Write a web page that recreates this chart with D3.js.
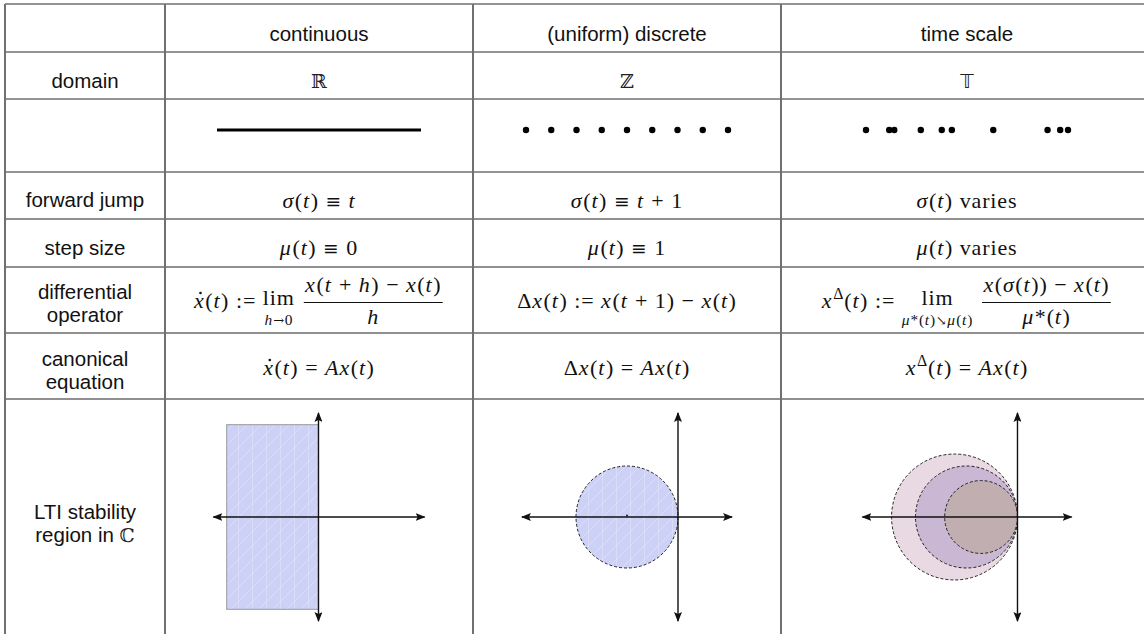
<!DOCTYPE html>
<html>
<head>
<meta charset="utf-8">
<script src="https://cdn.jsdelivr.net/npm/d3@7"></script>
<style>
  body { margin: 0; background: #fff; }
  svg { display: block; }
  .lbl { font-family: "Liberation Sans", Arial, sans-serif; font-size: 20.5px; fill: #111; }
  .m { font-family: "Liberation Serif", "Times New Roman", serif; fill: #111; letter-spacing: 0.04em; }
  .op { font-family: "DejaVu Serif", serif; }
  .bb { font-family: "DejaVu Serif", serif; fill: #222; }
  .bbt { font-family: "DejaVu Sans", sans-serif; fill: #222; }
</style>
</head>
<body>
<script>
//---------------------------------------------------- DATA ----------------------------------------------------------
var columns = ["continuous", "(uniform) discrete", "time scale"];
var rowLabels = [["domain"], [], ["forward jump"], ["step size"], ["differential", "operator"],
                 ["canonical", "equation"], ["LTI stability", "region in "]];
var domains = ["ℝ", "ℤ", "𝕋"];

// points of each domain, drawn on a common 0..8 line
var continuousSpan = [0, 8];
var discretePts = [0, 1, 2, 3, 4, 5, 6, 7, 8];
var timeScalePts = [0, 0.92, 1.12, 2.17, 3.0, 3.4, 5.04, 7.19, 7.69, 8.0];

// formulas: "{word}" = upright word, "^c" = superscript, ẋ = dotted x
var forwardJump = ["σ(t) ≡ t", "σ(t) ≡ t + 1", "σ(t) {varies}"];
var stepSize = ["μ(t) ≡ 0", "μ(t) ≡ 1", "μ(t) {varies}"];
var diffOperator = [
  ["ẋ(t) := ", {lim: "h→0"}, {num: "x(t + h) − x(t)", den: "h"}],
  ["Δx(t) := x(t + 1) − x(t)"],
  ["x^Δ(t) := ", {lim: "μ*(t)↘μ(t)"}, {num: "x(σ(t)) − x(t)", den: "μ*(t)"}]
];
var canonical = [["ẋ(t) = Ax(t)"], ["Δx(t) = Ax(t)"], ["x^Δ(t) = Ax(t)"]];

// complex plane: axis extents (re, im), stability regions
var axisRe = [[-2.08, 2.1], [-3.08, 1.08], [-3.06, 1.08]];
var axisIm = [-2.06, 2.06];
var ctsRe = [-1.8, 0];
var ctsIm = [-1.81, 1.81];
var discCircle = [-1, 1];          // centre, radius
var tsMu = [0.81, 1.0, 1.4];       // graininess -> circle centre -1/mu, radius 1/mu
var tsColors = ["#e9d9e3", "#cab7d4", "#c1aeb0"];

//--------------------------------------------------- LAYOUT ---------------------------------------------------------
var W = 1144, H = 634;
var colX = [5, 165, 473, 781, 1153];
var rowY = [4, 52, 99, 172, 219, 267, 333, 399];
var headBase = 41;
var labelBase = [[88], [], [207], [255], [299, 322], [366, 389], [519, 542]];
var dotsY = 130;
var planeY = 517;
var K = 51; // px per unit in complex plane
var MS = 22; // math font size

var svg = d3.select("body").append("svg").attr("width", W).attr("height", H);
var colC = function(i) { return (colX[i + 1] + colX[i + 2]) / 2; };

var defs = svg.append("defs");
defs.append("marker")
    .attr("id", "arr")
    .attr("viewBox", "0 0 10 8")
    .attr("refX", 9).attr("refY", 4)
    .attr("markerWidth", 10).attr("markerHeight", 8)
    .attr("markerUnits", "userSpaceOnUse")
    .attr("orient", "auto-start-reverse")
  .append("path")
    .attr("d", "M0,0 L10,4 L0,8 L2,4z")
    .attr("fill", "#111");

var hatch = defs.append("pattern")
    .attr("id", "hatch")
    .attr("patternUnits", "userSpaceOnUse")
    .attr("width", 14).attr("height", 14);
hatch.append("rect").attr("width", 14).attr("height", 14).attr("fill", "#ccd1f5");
hatch.append("path").attr("d", "M0,14 L14,0 M-3,3 L3,-3 M11,17 L17,11")
    .attr("stroke", "#fff").attr("stroke-opacity", 0.35).attr("stroke-width", 0.8);
hatch.append("path").attr("d", "M0.5,0 V14")
    .attr("stroke", "#fff").attr("stroke-opacity", 0.3).attr("stroke-width", 0.8);

//--------------------------------------------------- TABLE ----------------------------------------------------------
svg.selectAll(".hl").data(rowY).enter().append("line")
    .attr("x1", colX[0]).attr("x2", colX[4])
    .attr("y1", function(d) { return d; }).attr("y2", function(d) { return d; })
    .attr("stroke", function(d, i) { return i < 4 ? "#707070" : "#222"; })
    .attr("stroke-width", function(d, i) { return i < 4 ? 1.6 : 1.1; });

svg.selectAll(".vl").data(colX).enter().append("line")
    .attr("x1", function(d) { return d; }).attr("x2", function(d) { return d; })
    .attr("y1", rowY[0]).attr("y2", H)
    .attr("stroke", "#707070").attr("stroke-width", 2);

svg.selectAll(".head").data(columns).enter().append("text")
    .attr("class", "lbl")
    .attr("text-anchor", "middle")
    .attr("x", function(d, i) { return colC(i); })
    .attr("y", headBase)
    .text(function(d) { return d; });

var lc = (colX[0] + colX[1]) / 2;
rowLabels.forEach(function(lines, r) {
  lines.forEach(function(s, k) {
    var t = svg.append("text").attr("class", "lbl").attr("text-anchor", "middle")
        .attr("x", lc).attr("y", labelBase[r][k]).text(s);
    if (r === 6 && k === 1) t.append("tspan").attr("class", "bb").style("font-size", "19px").text("ℂ");
  });
});

svg.selectAll(".dom").data(domains).enter().append("text")
    .attr("class", function(d, i) { return i === 2 ? "bbt" : "bb"; })
    .style("font-size", "19px")
    .attr("text-anchor", "middle")
    .attr("x", function(d, i) { return colC(i); })
    .attr("y", labelBase[0][0])
    .text(function(d) { return d; });

//--------------------------------------------------- DOMAINS --------------------------------------------------------
var dotX = function(i) { return d3.scaleLinear().domain([0, 8]).range([colC(i) - 101, colC(i) + 101]); };

svg.append("line")
    .attr("x1", dotX(0)(continuousSpan[0]) - 1).attr("x2", dotX(0)(continuousSpan[1]) + 1)
    .attr("y1", dotsY).attr("y2", dotsY)
    .attr("stroke", "#000").attr("stroke-width", 3);

svg.selectAll(".dd").data(discretePts).enter().append("circle")
    .attr("cx", function(d) { return dotX(1)(d); }).attr("cy", dotsY).attr("r", 3.2).attr("fill", "#000");

svg.selectAll(".td").data(timeScalePts).enter().append("circle")
    .attr("cx", function(d) { return dotX(2)(d); }).attr("cy", dotsY).attr("r", 3.2).attr("fill", "#000");

//--------------------------------------------------- MATH -----------------------------------------------------------
function parseRun(str) {
  var segs = [];
  for (var i = 0; i < str.length; i++) {
    var c = str[i];
    if (c === "{") {
      var j = str.indexOf("}", i);
      segs.push({t: str.slice(i + 1, j), it: false});
      i = j;
    } else if (c === "^") {
      i++;
      segs.push({t: str[i], it: /[A-Za-z]/.test(str[i]), sup: true});
    } else if (c === " ") {
      segs.push({space: true});
    } else if (c === "ẋ") {
      segs.push({t: "x", it: true, dot: true});
    } else if ("≡→↘".indexOf(c) >= 0) {
      segs.push({t: c, it: false, op: true});
    } else {
      segs.push({t: c, it: /[A-Za-zσμ]/.test(c)});
    }
  }
  var out = [];
  segs.forEach(function(s) {
    var p = out[out.length - 1];
    if (p && !p.space && !s.space && !p.sup && !s.sup && !p.dot && !s.dot && !p.op && !s.op && p.it === s.it) p.t += s.t;
    else out.push(Object.assign({}, s));
  });
  return out;
}

// one <text> per run, tspans for italic / superscript parts; returns the x where the run ends
function mathRun(g, str, x, y, size) {
  var t = g.append("text").attr("class", "m").attr("x", x).attr("y", y).style("font-size", size + "px");
  var pend = 0, cur = 0, n = 0, prevIt = false, dots = [];
  parseRun(str).forEach(function(s) {
    if (s.space) { pend += size * 0.3; return; }
    var off = s.sup ? -size * 0.42 : 0;
    var dx = pend + (prevIt && !s.it ? size * 0.03 : 0);
    t.append("tspan")
        .attr("class", s.op ? "op" : null)
        .attr("dy", off - cur)
        .attr("dx", dx)
        .style("font-size", (s.sup ? size * 0.72 : s.op ? size * 0.85 : size) + "px")
        .style("font-style", s.it ? "italic" : "normal")
        .text(s.t);
    if (s.dot) dots.push(n);
    cur = off; pend = 0; prevIt = s.it; n += s.t.length;
  });
  var node = t.node();
  dots.forEach(function(k) {
    var e = node.getExtentOfChar(k);
    g.append("circle").attr("cx", e.x + e.width * 0.62).attr("cy", y - size * 0.68)
        .attr("r", size * 0.06).attr("fill", "#111");
  });
  return node.getEndPositionOfChar(n - 1).x + pend;
}

function formula(items, cx, y, size) {
  var f = svg.append("g");
  var x = 0;
  items.forEach(function(it) {
    if (typeof it === "string") {
      x = mathRun(f, it, x, y, size);
    } else if (it.lim) {
      var a = f.append("g"), b = f.append("g");
      var w1 = mathRun(a, "{lim}", 0, y - 3, size);
      var w2 = mathRun(b, it.lim, 0, y + size * 0.76, size * 0.7);
      var w = Math.max(w1, w2);
      a.attr("transform", "translate(" + (x + (w - w1) / 2) + ",0)");
      b.attr("transform", "translate(" + (x + (w - w2) / 2) + ",0)");
      x += w + size * 0.35;
    } else if (it.num) {
      var n = f.append("g"), d = f.append("g");
      var wn = mathRun(n, it.num, 0, y - size * 0.72, size);
      var wd = mathRun(d, it.den, 0, y + size * 0.74, size);
      var wf = Math.max(wn, wd) + size * 0.24;
      n.attr("transform", "translate(" + (x + (wf - wn) / 2) + ",0)");
      d.attr("transform", "translate(" + (x + (wf - wd) / 2) + ",0)");
      f.append("line").attr("x1", x + size * 0.06).attr("x2", x + wf - size * 0.06)
          .attr("y1", y - size * 0.25).attr("y2", y - size * 0.25)
          .attr("stroke", "#111").attr("stroke-width", 1);
      x += wf;
    }
  });
  f.attr("transform", "translate(" + (cx - x / 2) + ",0)");
}

forwardJump.forEach(function(s, i) { formula([s], colC(i), 208, MS); });
stepSize.forEach(function(s, i) { formula([s], colC(i), 255, MS); });
diffOperator.forEach(function(s, i) { formula(s, colC(i), 308, MS); });
canonical.forEach(function(s, i) { formula(s, colC(i), 375, MS); });

//------------------------------------------------ STABILITY REGIONS -------------------------------------------------
var yS = d3.scaleLinear().domain(axisIm).range([planeY + K * (axisIm[1] - axisIm[0]) / 2, planeY - K * (axisIm[1] - axisIm[0]) / 2]);
var xS = axisRe.map(function(ext, i) {
  var mid = (ext[0] + ext[1]) / 2;
  return d3.scaleLinear().domain(ext).range([colC(i) + (ext[0] - mid) * K, colC(i) + (ext[1] - mid) * K]);
});

// continuous: open left half plane (clipped)
svg.append("rect")
    .attr("x", xS[0](ctsRe[0])).attr("y", yS(ctsIm[1]))
    .attr("width", xS[0](ctsRe[1]) - xS[0](ctsRe[0]))
    .attr("height", yS(ctsIm[0]) - yS(ctsIm[1]))
    .attr("fill", "url(#hatch)").attr("stroke", "#9a9a9a").attr("stroke-width", 1);

// discrete: unit circle around -1
svg.append("circle")
    .attr("cx", xS[1](discCircle[0])).attr("cy", yS(0))
    .attr("r", xS[1](discCircle[1]) - xS[1](0))
    .attr("fill", "url(#hatch)").attr("stroke", "#222").attr("stroke-width", 1)
    .attr("stroke-dasharray", "3,2");
svg.append("circle").attr("cx", xS[1](discCircle[0])).attr("cy", yS(0) - 1.5).attr("r", 1).attr("fill", "#222");

// time scale: Hilger circles for several graininess values
svg.selectAll(".hc").data(tsMu).enter().append("circle")
    .attr("cx", function(m) { return xS[2](-1 / m); }).attr("cy", yS(0))
    .attr("r", function(m) { return xS[2](1 / m) - xS[2](0); })
    .attr("fill", function(m, i) { return tsColors[i]; })
    .attr("stroke", "#222").attr("stroke-width", 1)
    .attr("stroke-dasharray", "3,2");

// axes
xS.forEach(function(x, i) {
  svg.append("line")
      .attr("x1", x(axisRe[i][0]) + 1).attr("x2", x(axisRe[i][1]) - 1)
      .attr("y1", yS(0)).attr("y2", yS(0))
      .attr("stroke", "#111").attr("stroke-width", 1.4)
      .attr("marker-start", "url(#arr)").attr("marker-end", "url(#arr)");
  svg.append("line")
      .attr("x1", x(0)).attr("x2", x(0))
      .attr("y1", yS(axisIm[0]) - 1).attr("y2", yS(axisIm[1]) + 1)
      .attr("stroke", "#111").attr("stroke-width", 1.4)
      .attr("marker-start", "url(#arr)").attr("marker-end", "url(#arr)");
});
</script>
</body>
</html>
